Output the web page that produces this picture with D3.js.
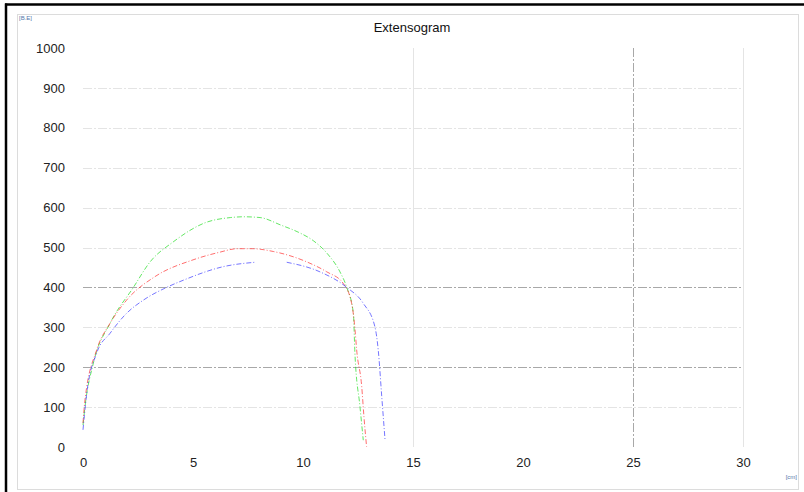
<!DOCTYPE html>
<html>
<head>
<meta charset="utf-8">
<script src="https://cdn.jsdelivr.net/npm/d3@7"></script>
<style>
  body { margin: 0; background: #fff; }
  svg { display: block; font-family: "Liberation Sans", Arial, sans-serif; }
</style>
</head>
<body>
<div id="chart"></div>
<script>
// tick values
var xTicks = [0, 5, 10, 15, 20, 25, 30];
var yTicks = [0, 100, 200, 300, 400, 500, 600, 700, 800, 900, 1000];

// extensogram curves (extension cm, resistance B.E.)
var greenX = [0, 0.09, 0.47, 1.23, 2.29, 3.05, 4.1, 5.6, 6.7, 7.3, 8.05, 9.0, 9.8, 10.47, 11.1, 11.68, 11.99, 12.29, 12.36, 12.59, 12.74];
var greenY = [55, 101, 210, 310, 400, 464, 514, 563, 575, 577, 575, 556, 538, 517, 485, 439, 400, 335, 235, 101, 17];

var redX = [0, 0.09, 0.62, 1.23, 1.98, 3.27, 5.0, 6.2, 7.0, 7.7, 8.65, 10.17, 11.08, 11.83, 12.21, 12.36, 12.44, 12.67, 12.77, 12.89];
var redY = [60, 118, 243, 310, 368, 427, 469, 488, 497, 497, 490, 464, 439, 410, 360, 297, 243, 151, 76, 1];

var blueX = [0, 0.17, 0.62, 1.23, 1.98, 2.74, 3.8, 4.56, 6.38, 7.82, 8.5, 9.26, 10.77, 11.99, 12.74, 13.27, 13.42, 13.58, 13.73];
var blueY = [43, 134, 235, 285, 335, 368, 400, 418, 452, 463, null, 463, 439, 400, 360, 301, 243, 126, 17];

var series = [
  { color: "#22dd22", xs: greenX, ys: greenY },
  { color: "#ff3030", xs: redX, ys: redY },
  { color: "#3a3aff", xs: blueX, ys: blueY }
];

var width = 804, height = 492;
var margin = { top: 48, right: 61, bottom: 45, left: 83 };
var w = width - margin.left - margin.right,
    h = height - margin.top - margin.bottom;

var svg = d3.select("#chart").append("svg")
    .attr("width", width)
    .attr("height", height);

// frame
svg.append("rect")
    .attr("x", 17.5).attr("y", 14.5)
    .attr("width", 781).attr("height", 475)
    .attr("fill", "none")
    .attr("stroke", "#dcdcdc");
svg.append("line").attr("x1", 6).attr("x2", 6).attr("y1", 3.5).attr("y2", height)
    .attr("stroke", "#000").attr("stroke-width", 2.5);
svg.append("line").attr("x1", 5).attr("x2", width).attr("y1", 4.5).attr("y2", 4.5)
    .attr("stroke", "#000").attr("stroke-width", 2.5);

var g = svg.append("g")
    .attr("transform", "translate(" + margin.left + "," + margin.top + ")");

var x = d3.scaleLinear().domain([0, 30]).range([0, w]);
var y = d3.scaleLinear().domain([0, 1000]).range([h, 0]);

// horizontal grid
g.selectAll(".hgrid")
    .data(yTicks.filter(function(v) { return v > 0 && v < 1000; }))
    .enter().append("line")
    .attr("class", "hgrid")
    .attr("x1", 0).attr("x2", w)
    .attr("y1", function(d) { return Math.round(y(d)) + 0.5; })
    .attr("y2", function(d) { return Math.round(y(d)) + 0.5; })
    .attr("stroke", function(d) { return (d === 200 || d === 400) ? "#a8a8a8" : "#e4e4e4"; })
    .attr("stroke-dasharray", "9,2,2,2");

// vertical grid
var vGrid = [15, 25, 30];
g.selectAll(".vgrid")
    .data(vGrid)
    .enter().append("line")
    .attr("class", "vgrid")
    .attr("y1", 0).attr("y2", h)
    .attr("x1", function(d) { return Math.round(x(d)) + 0.5; })
    .attr("x2", function(d) { return Math.round(x(d)) + 0.5; })
    .attr("stroke", function(d) { return d === 25 ? "#a8a8a8" : "#e4e4e4"; })
    .attr("stroke-dasharray", function(d) { return d === 25 ? "9,2,2,2" : null; });

// axes
var yAxis = g.append("g")
    .call(d3.axisLeft(y).tickValues(yTicks).tickFormat(d3.format("d")).tickSize(0).tickPadding(18));
var xAxis = g.append("g")
    .attr("transform", "translate(0," + h + ")")
    .call(d3.axisBottom(x).tickValues(xTicks).tickFormat(d3.format("d")).tickSize(0).tickPadding(11));
[xAxis, yAxis].forEach(function(a) {
  a.select(".domain").remove();
  a.selectAll("text")
    .attr("fill", "#222")
    .style("font-size", "13px")
    .style("font-family", "'Liberation Sans', Arial, sans-serif");
});

// curves
var line = d3.line()
    .defined(function(d) { return d[1] != null; })
    .x(function(d) { return x(d[0]); })
    .y(function(d) { return y(d[1]); })
    .curve(d3.curveMonotoneX);

series.forEach(function(s) {
  var pts = s.xs.map(function(v, i) { return [v, s.ys[i]]; });
  g.append("path")
    .datum(pts)
    .attr("fill", "none")
    .attr("stroke", s.color)
    .attr("stroke-width", 1)
    .attr("stroke-opacity", 0.7)
    .attr("stroke-dasharray", "5,2,1,2")
    .attr("d", line);
});

// title and unit labels
svg.append("text")
    .attr("x", 412).attr("y", 32)
    .attr("text-anchor", "middle")
    .style("font-size", "13px")
    .attr("fill", "#111")
    .text("Extensogram");
svg.append("text")
    .attr("x", 19).attr("y", 20)
    .style("font-size", "6px")
    .attr("fill", "#5577aa")
    .text("[B.E]");
svg.append("text")
    .attr("x", 797).attr("y", 479)
    .attr("text-anchor", "end")
    .style("font-size", "6px")
    .attr("fill", "#5577aa")
    .text("[cm]");
</script>
</body>
</html>
